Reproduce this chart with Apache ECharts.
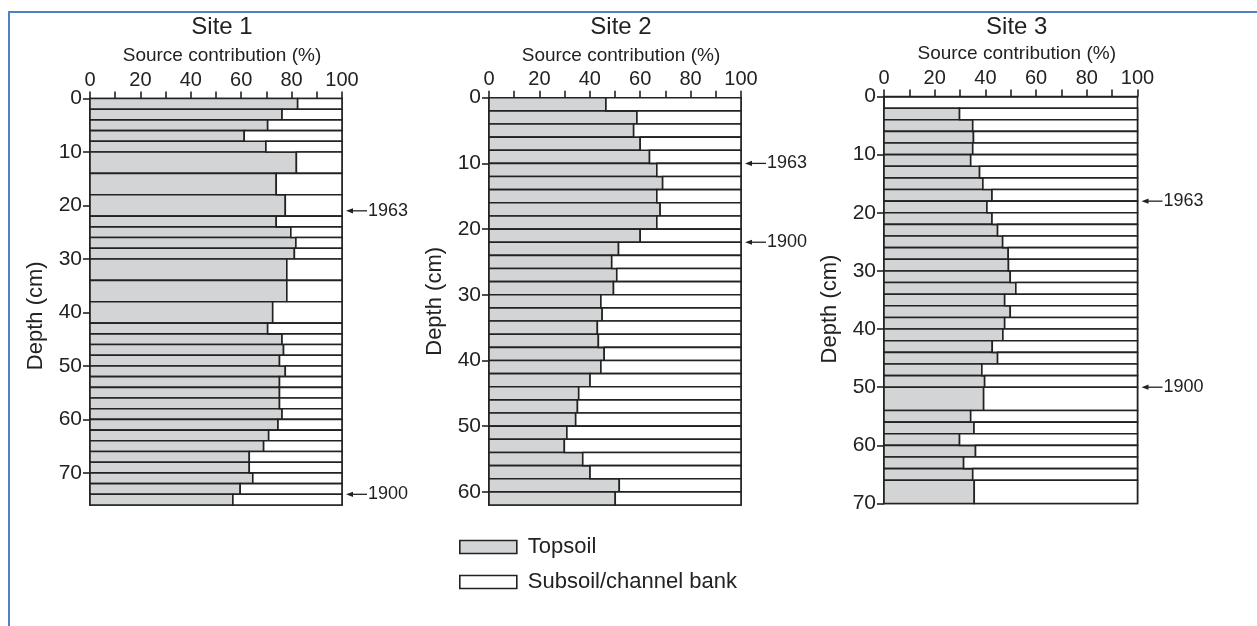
<!DOCTYPE html>
<html>
<head>
<meta charset="utf-8">
<script src="https://cdn.jsdelivr.net/npm/echarts@6/dist/echarts.min.js"></script>
<style>
  html, body { margin: 0; padding: 0; background: #fff; }
  #chart { width: 1257px; height: 626px; }
</style>
</head>
<body>
<div id="chart"></div>
<script>
// Sample depth boundaries (cm) for each core; interval i spans bounds[i]..bounds[i+1]
const site1Bounds = [0, 2, 4, 6, 8, 10, 14, 18, 22, 24, 26, 28, 30, 34, 38, 42, 44, 46, 48, 50,
  52, 54, 56, 58, 60, 62, 64, 66, 68, 70, 72, 74, 76];
const site2Bounds = [0, 2, 4, 6, 8, 10, 12, 14, 16, 18, 20, 22, 24, 26, 28, 30, 32, 34, 36, 38, 40,
  42, 44, 46, 48, 50, 52, 54, 56, 58, 60, 62];
const site3Bounds = [2, 4, 6, 8, 10, 12, 14, 16, 18, 20, 22, 24, 26, 28, 30, 32, 34, 36, 38, 40, 42,
  44, 46, 48, 50, 54, 56, 58, 60, 62, 64, 66, 70];

// Topsoil share (%) of each interval; the subsoil/channel bank share is the remainder
const site1Topsoil = [82.4, 76.2, 70.5, 61.2, 69.8, 81.9, 73.9, 77.5, 73.9, 79.7, 81.7, 81.1,
  78.1, 78.1, 72.5, 70.5, 76.2, 76.8, 75.2, 77.5, 75.2, 75.2, 75.2, 76.2, 74.6, 70.9, 68.9,
  63.2, 63.2, 64.6, 59.6, 56.7];
const site2Topsoil = [46.4, 58.7, 57.4, 60.0, 63.7, 66.6, 68.9, 66.6, 67.9, 66.6, 60.0, 51.4,
  48.7, 50.7, 49.4, 44.4, 44.9, 43.0, 43.4, 45.7, 44.4, 40.1, 35.6, 35.1, 34.4, 30.9, 29.9,
  37.2, 40.1, 51.7, 50.1];
const site3Topsoil = [29.8, 35.0, 35.3, 35.0, 34.2, 37.7, 39.0, 42.6, 40.6, 42.6, 44.8, 46.8,
  49.0, 49.1, 49.8, 52.0, 47.6, 49.8, 47.6, 46.9, 42.7, 44.8, 38.6, 39.7, 39.3, 34.2, 35.5,
  29.8, 36.1, 31.4, 35.0, 35.6];

// Dated horizons (depth in cm)
const site1Dates = [{ depth: 21, label: '1963' }, { depth: 74, label: '1900' }];
const site2Dates = [{ depth: 10, label: '1963' }, { depth: 22, label: '1900' }];
const site3Dates = [{ depth: 18, label: '1963' }, { depth: 50, label: '1900' }];

// Axis extents and tick labels
const siteTitles = ['Site 1', 'Site 2', 'Site 3'];
const depthMax = [76, 62, 70];
const depthTicks = [
  [0, 10, 20, 30, 40, 50, 60, 70],
  [0, 10, 20, 30, 40, 50, 60],
  [0, 10, 20, 30, 40, 50, 60, 70]
];
const pctTicks = [0, 10, 20, 30, 40, 50, 60, 70, 80, 90, 100];
const pctLabels = [0, 20, 40, 60, 80, 100];

const FONT = '"Liberation Sans", Arial, Helvetica, sans-serif';
const INK = '#222222';
const GRAY = '#d3d4d6';
const LINE_W = 1.6;

const sites = [
  { bounds: site1Bounds, topsoil: site1Topsoil, dates: site1Dates, depthShift: 28,
    grid: { left: 90, top: 98.5, width: 252, height: 406.5 } },
  { bounds: site2Bounds, topsoil: site2Topsoil, dates: site2Dates, depthShift: 0,
    grid: { left: 489, top: 97.7, width: 252, height: 407.3 } },
  { bounds: site3Bounds, topsoil: site3Topsoil, dates: site3Dates, depthShift: 18,
    grid: { left: 884, top: 96.5, width: 253.5, height: 407 } }
];

function intervals(bounds, topsoil) {
  return topsoil.map((v, i) => [bounds[i], bounds[i + 1], v]);
}

function bandRenderer(part) {
  return function (params, api) {
    const top = api.value(0), bottom = api.value(1), v = api.value(2);
    const x0 = part === 'top' ? 0 : v;
    const x1 = part === 'top' ? v : 100;
    const a = api.coord([x0, top]);
    const b = api.coord([x1, bottom]);
    return {
      type: 'rect',
      shape: { x: a[0], y: a[1], width: b[0] - a[0], height: b[1] - a[1] },
      style: { fill: part === 'top' ? GRAY : '#ffffff', stroke: INK, lineWidth: LINE_W }
    };
  };
}

function dateRenderer(dates) {
  return function (params, api) {
    const p = api.coord([api.value(0), api.value(1)]);
    const x = p[0], y = p[1];
    return {
      type: 'group',
      children: [
        { type: 'polygon', shape: { points: [[x + 4, y], [x + 11, y - 2.6], [x + 11, y + 2.6]] },
          style: { fill: INK } },
        { type: 'line', shape: { x1: x + 10, y1: y, x2: x + 25, y2: y },
          style: { stroke: INK, lineWidth: 1.3 } },
        { type: 'text', x: x + 26, y: y,
          style: { text: dates[params.dataIndex].label, fill: INK, font: '18px ' + FONT,
                   verticalAlign: 'middle', align: 'left' } }
      ]
    };
  };
}

const grids = [], xAxes = [], yAxes = [], series = [], titles = [];

sites.forEach((s, k) => {
  grids.push(Object.assign({ show: true, borderColor: INK, borderWidth: LINE_W,
    backgroundColor: '#fff', containLabel: false }, s.grid));

  const centerX = s.grid.left + s.grid.width / 2;
  titles.push({
    text: siteTitles[k], left: centerX + 6, top: 15, textAlign: 'center', padding: 0,
    textStyle: { fontSize: 24, fontWeight: 'normal', color: INK, fontFamily: FONT }
  });

  xAxes.push({
    gridIndex: k, type: 'value', position: 'top', min: 0, max: 100, interval: 10,
    name: 'Source contribution (%)', nameLocation: 'middle', nameGap: 31,
    nameTextStyle: { fontSize: 19, color: INK, fontFamily: FONT, padding: [0, 0, 0, 12] },
    axisLine: { show: true, lineStyle: { color: INK, width: LINE_W } },
    axisTick: { show: true, length: 7, lineStyle: { color: INK, width: LINE_W }, customValues: pctTicks },
    axisLabel: { fontSize: 20, color: INK, fontFamily: FONT, margin: 8, customValues: pctLabels },
    splitLine: { show: false }
  });

  yAxes.push({
    gridIndex: k, type: 'value', inverse: true, min: 0, max: depthMax[k], interval: 10,
    name: 'Depth (cm)', nameLocation: 'middle', nameGap: 43,
    nameTextStyle: { fontSize: 22, color: INK, fontFamily: FONT, padding: [0, s.depthShift, 0, 0] },
    axisLine: { show: true, lineStyle: { color: INK, width: LINE_W } },
    axisTick: { show: true, length: 7, lineStyle: { color: INK, width: LINE_W }, customValues: depthTicks[k] },
    axisLabel: { fontSize: 21, color: INK, fontFamily: FONT, margin: 8, customValues: depthTicks[k] },
    splitLine: { show: false }
  });

  const data = intervals(s.bounds, s.topsoil);
  series.push({
    type: 'custom', name: 'Topsoil', xAxisIndex: k, yAxisIndex: k, clip: false,
    encode: { x: 2, y: [0, 1] }, data: data,
    itemStyle: { color: GRAY, borderColor: INK, borderWidth: LINE_W },
    renderItem: bandRenderer('top')
  });
  series.push({
    type: 'custom', name: 'Subsoil/channel bank', xAxisIndex: k, yAxisIndex: k, clip: false,
    encode: { x: 2, y: [0, 1] }, data: data,
    itemStyle: { color: '#ffffff', borderColor: INK, borderWidth: LINE_W },
    renderItem: bandRenderer('sub')
  });
  series.push({
    type: 'custom', name: 'dates' + k, xAxisIndex: k, yAxisIndex: k, clip: false, silent: true,
    encode: { x: 0, y: 1 }, data: s.dates.map(d => [100, d.depth]),
    renderItem: dateRenderer(s.dates)
  });
});

const chart = echarts.init(document.getElementById('chart'), null, { renderer: 'canvas' });
chart.setOption({
  animation: false,
  backgroundColor: '#ffffff',
  textStyle: { fontFamily: FONT },
  title: titles,
  grid: grids,
  xAxis: xAxes,
  yAxis: yAxes,
  legend: {
    orient: 'vertical', left: 459, top: 536, itemWidth: 57, itemHeight: 13, itemGap: 13,
    selectedMode: false, icon: 'rect', padding: 0,
    textStyle: { fontSize: 22, color: INK, fontFamily: FONT, padding: [0, 0, 0, 6] },
    data: [
      { name: 'Topsoil', itemStyle: { color: GRAY, borderColor: INK, borderWidth: LINE_W } },
      { name: 'Subsoil/channel bank', itemStyle: { color: '#ffffff', borderColor: INK, borderWidth: LINE_W } }
    ]
  },
  graphic: [{
    type: 'polyline', silent: true,
    shape: { points: [[9, 640], [9, 12], [1270, 12]] },
    style: { stroke: '#4f81c4', lineWidth: 2, fill: null }
  }],
  series: series
});
</script>
</body>
</html>
